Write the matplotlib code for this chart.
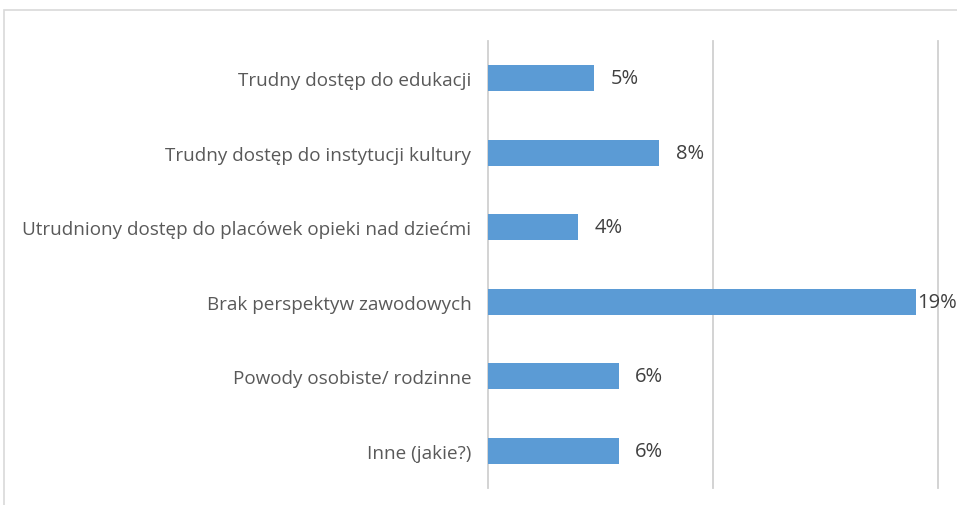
import matplotlib.pyplot as plt
from matplotlib.patches import Rectangle

categories = ['Trudny dostęp do edukacji',
              'Trudny dostęp do instytucji kultury',
              'Utrudniony dostęp do placówek opieki nad dziećmi',
              'Brak perspektyw zawodowych',
              'Powody osobiste/ rodzinne',
              'Inne (jakie?)']
values = [4.7, 7.6, 4.0, 19.0, 5.8, 5.8]
labels = ['5%', '8%', '4%', '19%', '6%', '6%']

plt.rcParams['font.family'] = ['Open Sans', 'DejaVu Sans']

fig = plt.figure(figsize=(9.57, 5.06), dpi=100)
W, H = 957, 506
ax = fig.add_axes([488 / W, 1 - 489 / H, 450 / W, 447 / H])

y = list(range(len(categories)))
ax.barh(y, values, height=0.35, color='#5b9bd5', zorder=3)
ax.set_ylim(len(categories) - 0.5, -0.5)
ax.set_xlim(0, 20)
ax.set_xticks([0, 10, 20])
ax.xaxis.grid(True, color='#d0d0d0', linewidth=1.3, zorder=0)
for gl in ax.get_xgridlines():
    gl.set_clip_on(False)
ax.tick_params(axis='x', length=0, labelbottom=False)
ax.tick_params(axis='y', length=0, pad=12)
ax.set_yticks(y)
ax.set_yticklabels(categories, fontsize=13.6, color='#595959')
for s in ax.spines.values():
    s.set_visible(False)

for i, (v, l) in enumerate(zip(values, labels)):
    off = 1.5 if v > 18 else 12
    ax.annotate(l, (v, i), xytext=(off, 0), textcoords='offset points',
                va='center', ha='left', fontsize=14.5, color='#404040',
                annotation_clip=False)

fig.patches.append(Rectangle((4 / W, -0.05), 1.1, 1 - 11 / H + 0.05,
                             transform=fig.transFigure, fill=False,
                             edgecolor='#d9d9d9', linewidth=1.2))

plt.savefig('out.png', dpi=100)
